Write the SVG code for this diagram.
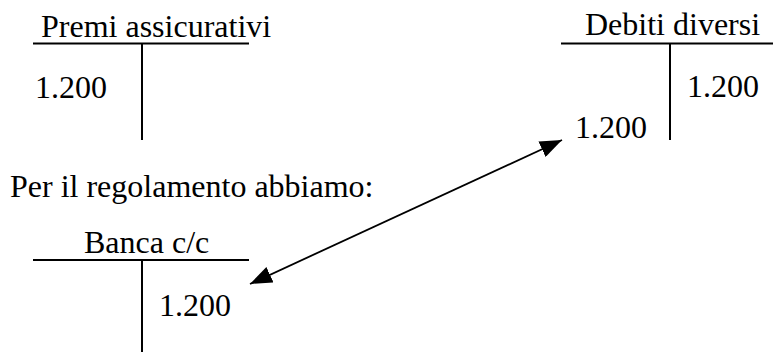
<svg xmlns="http://www.w3.org/2000/svg" width="773" height="352" viewBox="0 0 773 352">
<style>
text{font-family:"Liberation Serif","Times New Roman",serif;font-size:32px;fill:#000}
.t{stroke:#000;stroke-width:2;fill:none}
.c{stroke:#000;stroke-width:1.8;fill:none}
</style>
<defs>
<marker id="ah" markerWidth="22" markerHeight="17" refX="22" refY="8.5" orient="auto-start-reverse" markerUnits="userSpaceOnUse">
<path d="M0,0 L22,8.5 L0,17 Z" fill="#000"/>
</marker>
</defs>
<rect width="773" height="352" fill="#fff"/>
<g id="premi">
<text x="41" y="36.5">Premi assicurativi</text>
<line class="t" x1="33" y1="43.5" x2="249" y2="43.5"/>
<line class="t" x1="142" y1="43.5" x2="142" y2="140"/>
<text x="35" y="98">1.200</text>
</g>
<g id="debiti">
<text x="585" y="35">Debiti diversi</text>
<line class="t" x1="561" y1="43.5" x2="773" y2="43.5"/>
<line class="t" x1="670" y1="43.5" x2="670" y2="140"/>
<text x="687" y="96.5">1.200</text>
<text x="575" y="138">1.200</text>
</g>
<g id="testo">
<text x="10" y="196.5">Per il regolamento abbiamo:</text>
</g>
<g id="banca">
<text x="84" y="253">Banca c/c</text>
<line class="t" x1="33" y1="260" x2="249" y2="260"/>
<line class="t" x1="142" y1="260" x2="142" y2="352"/>
<text x="159" y="315.5">1.200</text>
</g>
<g id="connectors">
<line class="c" x1="250" y1="284" x2="562" y2="140" marker-start="url(#ah)" marker-end="url(#ah)"/>
</g>
</svg>
